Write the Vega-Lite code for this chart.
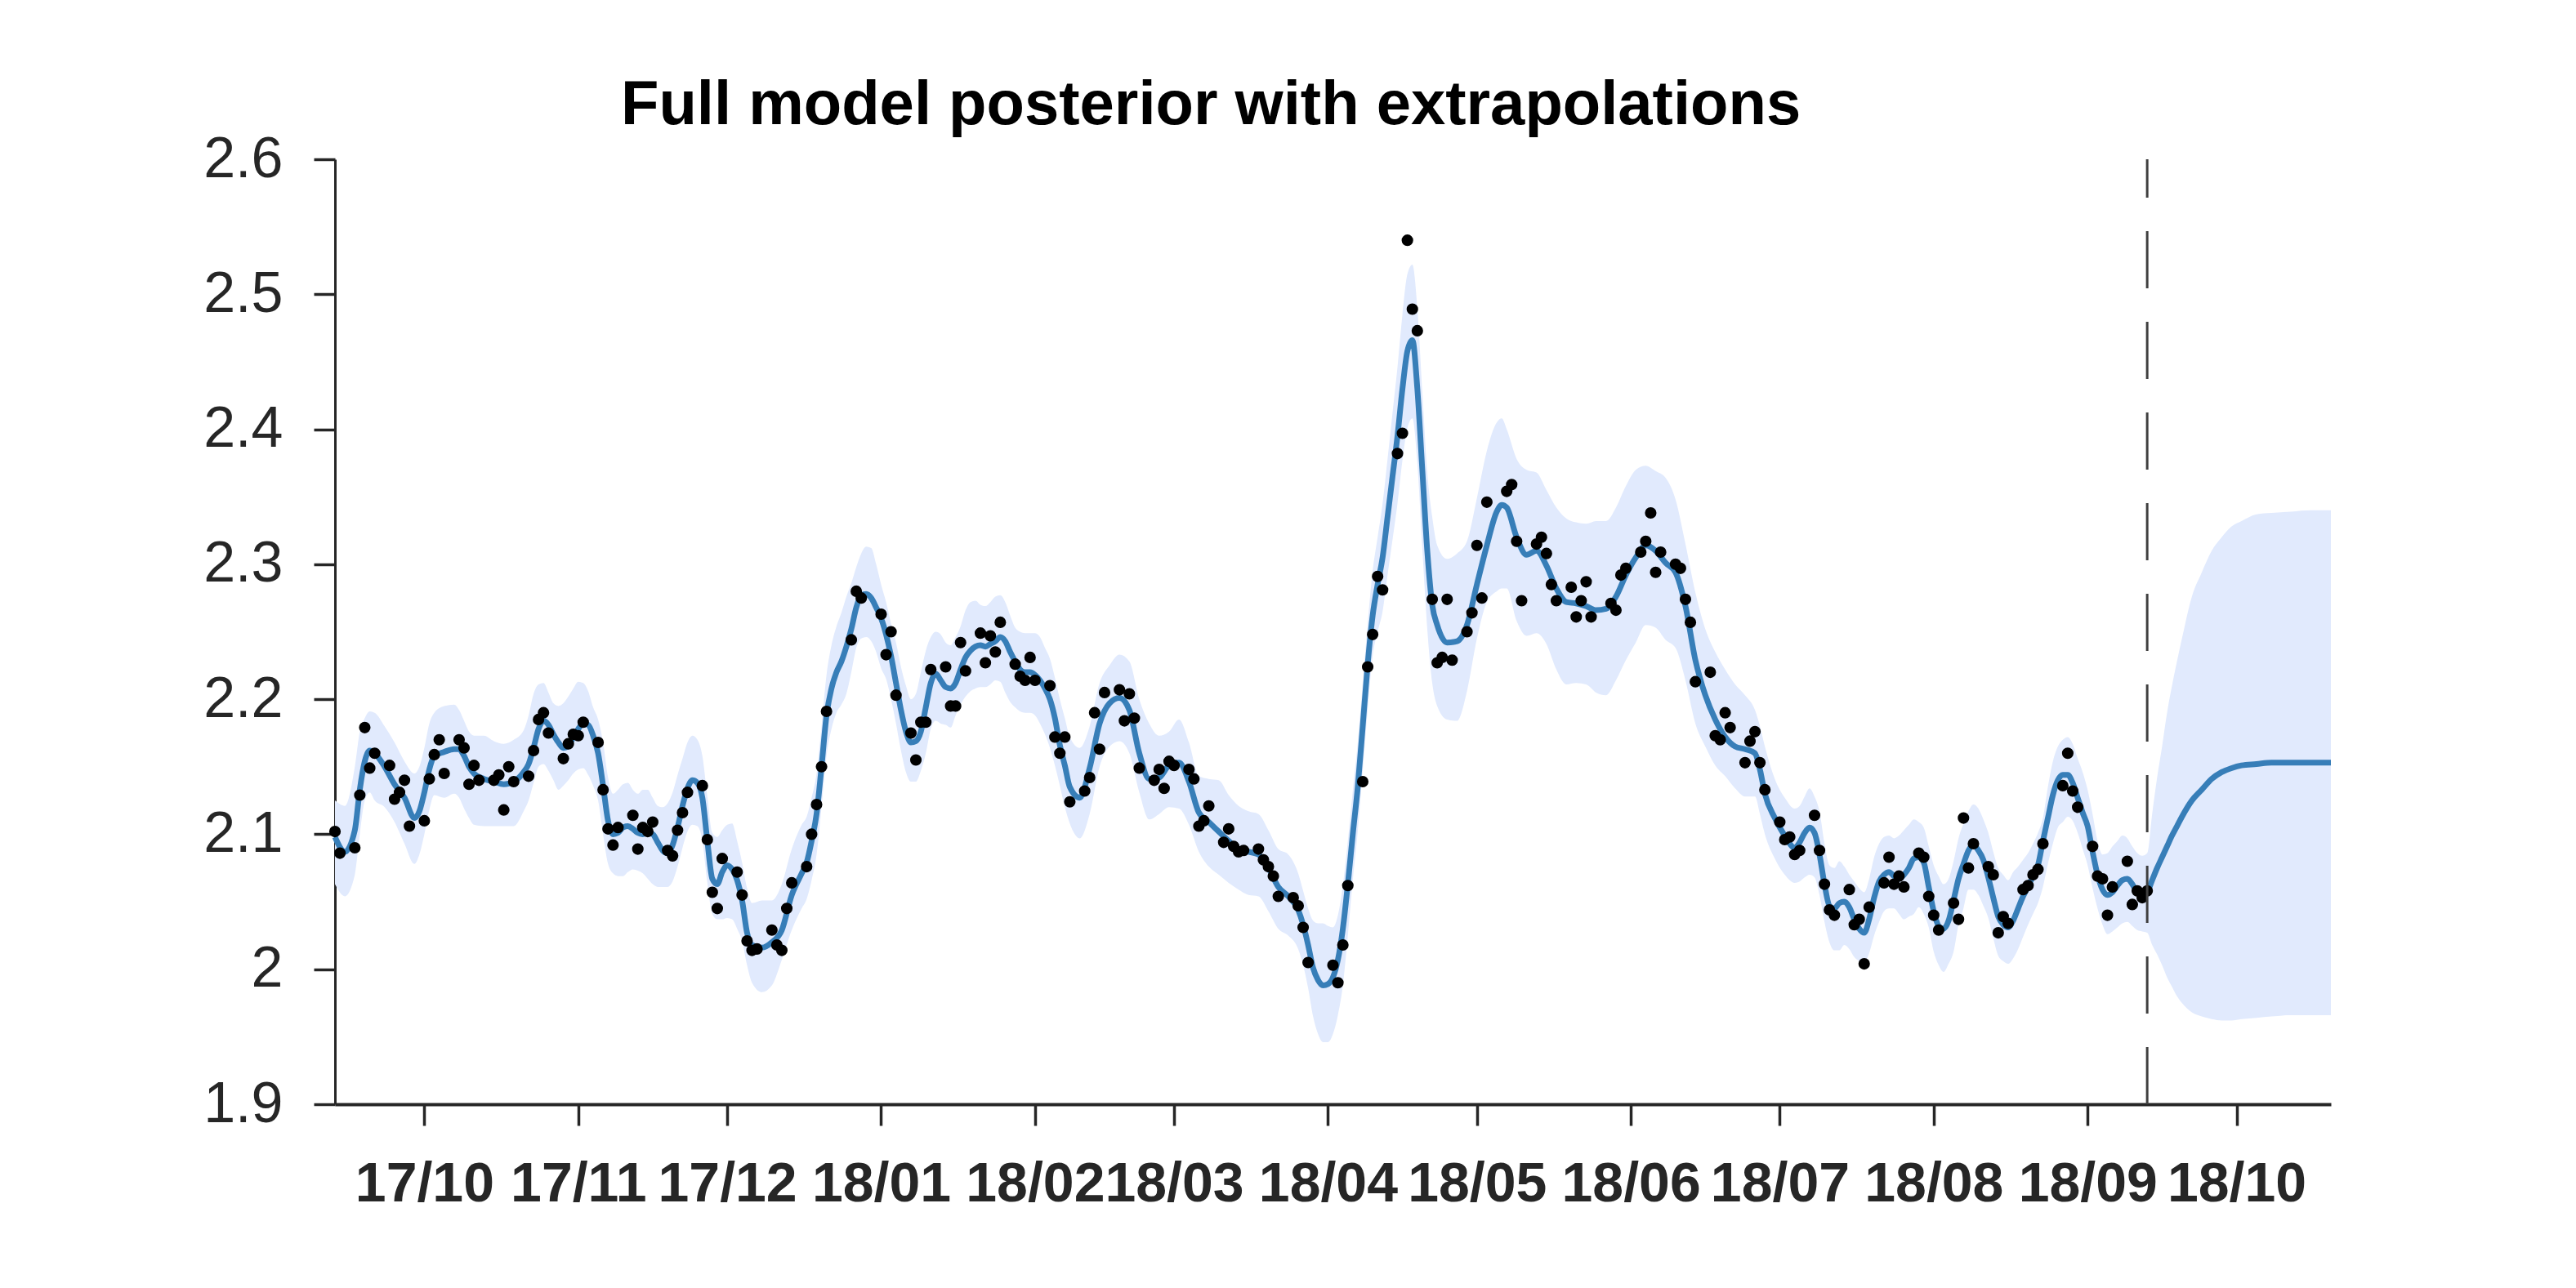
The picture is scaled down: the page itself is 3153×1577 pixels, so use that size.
{
"$schema": "https://vega.github.io/schema/vega-lite/v6.json",
"width": 2443, "height": 1157,
"autosize": {"type": "none"},
"padding": {"left": 410, "top": 195, "right": 300, "bottom": 225},
"background": "white",
"config": {"view": {"stroke": null}, "font": "Liberation Sans"},
"title": {"text": "Full model posterior with extrapolations", "anchor": "start", "frame": "group", "dx": 350, "dy": 28, "fontSize": 76, "fontWeight": "bold", "font": "Liberation Sans", "color": "#000000", "offset": 20},
"datasets": {
"post": [
{"t":"2017-09-13","m":2.098,"lo":2.063,"hi":2.125},
{"t":"2017-09-15","m":2.087,"lo":2.054,"hi":2.121},
{"t":"2017-09-17","m":2.103,"lo":2.070,"hi":2.150},
{"t":"2017-09-18","m":2.133,"lo":2.100,"hi":2.176},
{"t":"2017-09-19","m":2.154,"lo":2.125,"hi":2.186},
{"t":"2017-09-20","m":2.162,"lo":2.131,"hi":2.191},
{"t":"2017-09-21","m":2.160,"lo":2.125,"hi":2.190},
{"t":"2017-09-23","m":2.150,"lo":2.120,"hi":2.180},
{"t":"2017-09-25","m":2.137,"lo":2.109,"hi":2.168},
{"t":"2017-09-27","m":2.127,"lo":2.093,"hi":2.154},
{"t":"2017-09-29","m":2.112,"lo":2.078,"hi":2.145},
{"t":"2017-09-30","m":2.117,"lo":2.085,"hi":2.150},
{"t":"2017-10-01","m":2.131,"lo":2.100,"hi":2.164},
{"t":"2017-10-02","m":2.148,"lo":2.118,"hi":2.182},
{"t":"2017-10-03","m":2.158,"lo":2.129,"hi":2.190},
{"t":"2017-10-05","m":2.161,"lo":2.127,"hi":2.195},
{"t":"2017-10-07","m":2.163,"lo":2.130,"hi":2.196},
{"t":"2017-10-08","m":2.163,"lo":2.127,"hi":2.192},
{"t":"2017-10-09","m":2.158,"lo":2.119,"hi":2.184},
{"t":"2017-10-10","m":2.150,"lo":2.112,"hi":2.176},
{"t":"2017-10-11","m":2.145,"lo":2.107,"hi":2.173},
{"t":"2017-10-13","m":2.141,"lo":2.106,"hi":2.173},
{"t":"2017-10-15","m":2.139,"lo":2.106,"hi":2.169},
{"t":"2017-10-17","m":2.137,"lo":2.106,"hi":2.167},
{"t":"2017-10-19","m":2.139,"lo":2.106,"hi":2.170},
{"t":"2017-10-21","m":2.146,"lo":2.117,"hi":2.177},
{"t":"2017-10-22","m":2.152,"lo":2.125,"hi":2.188},
{"t":"2017-10-23","m":2.164,"lo":2.138,"hi":2.204},
{"t":"2017-10-24","m":2.178,"lo":2.150,"hi":2.211},
{"t":"2017-10-25","m":2.184,"lo":2.152,"hi":2.212},
{"t":"2017-10-26","m":2.181,"lo":2.147,"hi":2.205},
{"t":"2017-10-27","m":2.174,"lo":2.140,"hi":2.197},
{"t":"2017-10-28","m":2.168,"lo":2.133,"hi":2.195},
{"t":"2017-10-29","m":2.164,"lo":2.136,"hi":2.197},
{"t":"2017-10-30","m":2.165,"lo":2.140,"hi":2.202},
{"t":"2017-10-31","m":2.172,"lo":2.145,"hi":2.208},
{"t":"2017-11-01","m":2.178,"lo":2.148,"hi":2.213},
{"t":"2017-11-02","m":2.182,"lo":2.149,"hi":2.212},
{"t":"2017-11-03","m":2.181,"lo":2.144,"hi":2.206},
{"t":"2017-11-04","m":2.173,"lo":2.136,"hi":2.194},
{"t":"2017-11-05","m":2.160,"lo":2.125,"hi":2.185},
{"t":"2017-11-06","m":2.136,"lo":2.100,"hi":2.168},
{"t":"2017-11-07","m":2.110,"lo":2.078,"hi":2.142},
{"t":"2017-11-08","m":2.100,"lo":2.071,"hi":2.130},
{"t":"2017-11-09","m":2.101,"lo":2.069,"hi":2.133},
{"t":"2017-11-10","m":2.105,"lo":2.069,"hi":2.137},
{"t":"2017-11-11","m":2.106,"lo":2.072,"hi":2.138},
{"t":"2017-11-12","m":2.104,"lo":2.074,"hi":2.133},
{"t":"2017-11-13","m":2.101,"lo":2.073,"hi":2.130},
{"t":"2017-11-14","m":2.100,"lo":2.071,"hi":2.133},
{"t":"2017-11-15","m":2.101,"lo":2.067,"hi":2.133},
{"t":"2017-11-16","m":2.100,"lo":2.063,"hi":2.127},
{"t":"2017-11-17","m":2.094,"lo":2.061,"hi":2.121},
{"t":"2017-11-18","m":2.088,"lo":2.061,"hi":2.120},
{"t":"2017-11-19","m":2.086,"lo":2.061,"hi":2.123},
{"t":"2017-11-20","m":2.092,"lo":2.065,"hi":2.131},
{"t":"2017-11-21","m":2.105,"lo":2.076,"hi":2.144},
{"t":"2017-11-22","m":2.121,"lo":2.090,"hi":2.156},
{"t":"2017-11-23","m":2.134,"lo":2.102,"hi":2.168},
{"t":"2017-11-24","m":2.140,"lo":2.107,"hi":2.173},
{"t":"2017-11-25","m":2.138,"lo":2.106,"hi":2.170},
{"t":"2017-11-26","m":2.127,"lo":2.095,"hi":2.158},
{"t":"2017-11-27","m":2.095,"lo":2.064,"hi":2.128},
{"t":"2017-11-28","m":2.067,"lo":2.041,"hi":2.101},
{"t":"2017-11-29","m":2.063,"lo":2.037,"hi":2.098},
{"t":"2017-11-30","m":2.072,"lo":2.037,"hi":2.103},
{"t":"2017-12-01","m":2.077,"lo":2.038,"hi":2.107},
{"t":"2017-12-02","m":2.074,"lo":2.037,"hi":2.108},
{"t":"2017-12-03","m":2.066,"lo":2.030,"hi":2.095},
{"t":"2017-12-04","m":2.051,"lo":2.021,"hi":2.079},
{"t":"2017-12-05","m":2.027,"lo":2.003,"hi":2.060},
{"t":"2017-12-06","m":2.018,"lo":1.990,"hi":2.049},
{"t":"2017-12-08","m":2.016,"lo":1.983,"hi":2.051},
{"t":"2017-12-10","m":2.020,"lo":1.988,"hi":2.051},
{"t":"2017-12-12","m":2.029,"lo":2.007,"hi":2.063},
{"t":"2017-12-14","m":2.055,"lo":2.029,"hi":2.089},
{"t":"2017-12-16","m":2.071,"lo":2.045,"hi":2.107},
{"t":"2017-12-17","m":2.079,"lo":2.052,"hi":2.113},
{"t":"2017-12-18","m":2.095,"lo":2.066,"hi":2.127},
{"t":"2017-12-19","m":2.115,"lo":2.085,"hi":2.145},
{"t":"2017-12-20","m":2.150,"lo":2.120,"hi":2.180},
{"t":"2017-12-21","m":2.188,"lo":2.158,"hi":2.218},
{"t":"2017-12-22","m":2.208,"lo":2.178,"hi":2.240},
{"t":"2017-12-23","m":2.220,"lo":2.190,"hi":2.254},
{"t":"2017-12-24","m":2.228,"lo":2.196,"hi":2.264},
{"t":"2017-12-25","m":2.239,"lo":2.204,"hi":2.276},
{"t":"2017-12-26","m":2.252,"lo":2.220,"hi":2.286},
{"t":"2017-12-27","m":2.268,"lo":2.238,"hi":2.298},
{"t":"2017-12-28","m":2.277,"lo":2.245,"hi":2.308},
{"t":"2017-12-29","m":2.278,"lo":2.246,"hi":2.313},
{"t":"2017-12-30","m":2.275,"lo":2.243,"hi":2.312},
{"t":"2017-12-31","m":2.268,"lo":2.235,"hi":2.300},
{"t":"2018-01-01","m":2.260,"lo":2.223,"hi":2.285},
{"t":"2018-01-02","m":2.248,"lo":2.215,"hi":2.272},
{"t":"2018-01-03","m":2.232,"lo":2.200,"hi":2.256},
{"t":"2018-01-04","m":2.212,"lo":2.182,"hi":2.242},
{"t":"2018-01-05","m":2.192,"lo":2.162,"hi":2.224},
{"t":"2018-01-06","m":2.176,"lo":2.146,"hi":2.210},
{"t":"2018-01-07","m":2.168,"lo":2.139,"hi":2.200},
{"t":"2018-01-08","m":2.169,"lo":2.139,"hi":2.204},
{"t":"2018-01-09","m":2.176,"lo":2.147,"hi":2.220},
{"t":"2018-01-10","m":2.194,"lo":2.160,"hi":2.236},
{"t":"2018-01-11","m":2.212,"lo":2.178,"hi":2.246},
{"t":"2018-01-12","m":2.219,"lo":2.184,"hi":2.250},
{"t":"2018-01-13","m":2.214,"lo":2.182,"hi":2.248},
{"t":"2018-01-14","m":2.209,"lo":2.181,"hi":2.242},
{"t":"2018-01-15","m":2.208,"lo":2.179,"hi":2.240},
{"t":"2018-01-16","m":2.212,"lo":2.188,"hi":2.246},
{"t":"2018-01-17","m":2.222,"lo":2.196,"hi":2.254},
{"t":"2018-01-18","m":2.231,"lo":2.202,"hi":2.266},
{"t":"2018-01-19","m":2.236,"lo":2.206,"hi":2.272},
{"t":"2018-01-20","m":2.239,"lo":2.208,"hi":2.273},
{"t":"2018-01-21","m":2.240,"lo":2.209,"hi":2.270},
{"t":"2018-01-22","m":2.239,"lo":2.209,"hi":2.269},
{"t":"2018-01-23","m":2.241,"lo":2.211,"hi":2.272},
{"t":"2018-01-24","m":2.243,"lo":2.214,"hi":2.276},
{"t":"2018-01-25","m":2.246,"lo":2.213,"hi":2.277},
{"t":"2018-01-26","m":2.243,"lo":2.205,"hi":2.272},
{"t":"2018-01-27","m":2.235,"lo":2.198,"hi":2.262},
{"t":"2018-01-28","m":2.228,"lo":2.194,"hi":2.253},
{"t":"2018-01-29","m":2.222,"lo":2.191,"hi":2.250},
{"t":"2018-01-30","m":2.220,"lo":2.190,"hi":2.249},
{"t":"2018-01-31","m":2.220,"lo":2.190,"hi":2.249},
{"t":"2018-02-01","m":2.218,"lo":2.188,"hi":2.249},
{"t":"2018-02-02","m":2.214,"lo":2.182,"hi":2.246},
{"t":"2018-02-03","m":2.208,"lo":2.174,"hi":2.238},
{"t":"2018-02-04","m":2.200,"lo":2.164,"hi":2.230},
{"t":"2018-02-05","m":2.186,"lo":2.151,"hi":2.216},
{"t":"2018-02-06","m":2.166,"lo":2.136,"hi":2.200},
{"t":"2018-02-07","m":2.151,"lo":2.120,"hi":2.186},
{"t":"2018-02-08","m":2.135,"lo":2.108,"hi":2.172},
{"t":"2018-02-10","m":2.127,"lo":2.097,"hi":2.164},
{"t":"2018-02-12","m":2.149,"lo":2.115,"hi":2.180},
{"t":"2018-02-14","m":2.182,"lo":2.150,"hi":2.212},
{"t":"2018-02-16","m":2.197,"lo":2.165,"hi":2.225},
{"t":"2018-02-18","m":2.201,"lo":2.169,"hi":2.233},
{"t":"2018-02-20","m":2.192,"lo":2.160,"hi":2.228},
{"t":"2018-02-22","m":2.160,"lo":2.131,"hi":2.200},
{"t":"2018-02-24","m":2.141,"lo":2.111,"hi":2.182},
{"t":"2018-02-26","m":2.142,"lo":2.115,"hi":2.173},
{"t":"2018-02-28","m":2.151,"lo":2.120,"hi":2.176},
{"t":"2018-03-02","m":2.153,"lo":2.119,"hi":2.185},
{"t":"2018-03-04","m":2.139,"lo":2.107,"hi":2.168},
{"t":"2018-03-06","m":2.116,"lo":2.087,"hi":2.143},
{"t":"2018-03-08","m":2.109,"lo":2.076,"hi":2.141},
{"t":"2018-03-10","m":2.102,"lo":2.070,"hi":2.140},
{"t":"2018-03-12","m":2.095,"lo":2.064,"hi":2.129},
{"t":"2018-03-14","m":2.089,"lo":2.059,"hi":2.121},
{"t":"2018-03-16","m":2.087,"lo":2.055,"hi":2.117},
{"t":"2018-03-18","m":2.085,"lo":2.054,"hi":2.115},
{"t":"2018-03-20","m":2.075,"lo":2.043,"hi":2.103},
{"t":"2018-03-22","m":2.061,"lo":2.030,"hi":2.089},
{"t":"2018-03-24","m":2.054,"lo":2.025,"hi":2.085},
{"t":"2018-03-26","m":2.044,"lo":2.015,"hi":2.071},
{"t":"2018-03-27","m":2.033,"lo":2.003,"hi":2.058},
{"t":"2018-03-28","m":2.018,"lo":1.986,"hi":2.045},
{"t":"2018-03-29","m":2.001,"lo":1.965,"hi":2.036},
{"t":"2018-03-30","m":1.992,"lo":1.952,"hi":2.034},
{"t":"2018-03-31","m":1.988,"lo":1.946,"hi":2.034},
{"t":"2018-04-01","m":1.989,"lo":1.946,"hi":2.032},
{"t":"2018-04-02","m":1.994,"lo":1.952,"hi":2.031},
{"t":"2018-04-03","m":2.007,"lo":1.966,"hi":2.040},
{"t":"2018-04-04","m":2.030,"lo":1.988,"hi":2.062},
{"t":"2018-04-05","m":2.063,"lo":2.025,"hi":2.095},
{"t":"2018-04-06","m":2.100,"lo":2.066,"hi":2.132},
{"t":"2018-04-07","m":2.135,"lo":2.102,"hi":2.168},
{"t":"2018-04-08","m":2.180,"lo":2.147,"hi":2.212},
{"t":"2018-04-09","m":2.226,"lo":2.192,"hi":2.256},
{"t":"2018-04-10","m":2.262,"lo":2.232,"hi":2.295},
{"t":"2018-04-11","m":2.285,"lo":2.250,"hi":2.320},
{"t":"2018-04-12","m":2.305,"lo":2.265,"hi":2.345},
{"t":"2018-04-13","m":2.335,"lo":2.292,"hi":2.378},
{"t":"2018-04-14","m":2.365,"lo":2.318,"hi":2.412},
{"t":"2018-04-15","m":2.395,"lo":2.345,"hi":2.446},
{"t":"2018-04-16","m":2.430,"lo":2.377,"hi":2.485},
{"t":"2018-04-17","m":2.458,"lo":2.401,"hi":2.515},
{"t":"2018-04-18","m":2.466,"lo":2.408,"hi":2.522},
{"t":"2018-04-19","m":2.430,"lo":2.375,"hi":2.490},
{"t":"2018-04-20","m":2.370,"lo":2.312,"hi":2.428},
{"t":"2018-04-21","m":2.310,"lo":2.252,"hi":2.368},
{"t":"2018-04-22","m":2.270,"lo":2.212,"hi":2.335},
{"t":"2018-04-23","m":2.255,"lo":2.195,"hi":2.314},
{"t":"2018-04-25","m":2.242,"lo":2.185,"hi":2.304},
{"t":"2018-04-27","m":2.243,"lo":2.184,"hi":2.308},
{"t":"2018-04-29","m":2.255,"lo":2.206,"hi":2.317},
{"t":"2018-05-01","m":2.285,"lo":2.245,"hi":2.349},
{"t":"2018-05-03","m":2.314,"lo":2.272,"hi":2.384},
{"t":"2018-05-05","m":2.339,"lo":2.280,"hi":2.405},
{"t":"2018-05-06","m":2.344,"lo":2.282,"hi":2.408},
{"t":"2018-05-07","m":2.342,"lo":2.282,"hi":2.400},
{"t":"2018-05-09","m":2.320,"lo":2.258,"hi":2.378},
{"t":"2018-05-11","m":2.307,"lo":2.247,"hi":2.370},
{"t":"2018-05-13","m":2.310,"lo":2.249,"hi":2.368},
{"t":"2018-05-15","m":2.299,"lo":2.241,"hi":2.355},
{"t":"2018-05-17","m":2.282,"lo":2.222,"hi":2.342},
{"t":"2018-05-19","m":2.272,"lo":2.211,"hi":2.334},
{"t":"2018-05-21","m":2.271,"lo":2.212,"hi":2.331},
{"t":"2018-05-23","m":2.269,"lo":2.211,"hi":2.330},
{"t":"2018-05-25","m":2.266,"lo":2.205,"hi":2.332},
{"t":"2018-05-27","m":2.267,"lo":2.203,"hi":2.332},
{"t":"2018-05-29","m":2.276,"lo":2.214,"hi":2.342},
{"t":"2018-05-31","m":2.292,"lo":2.229,"hi":2.358},
{"t":"2018-06-02","m":2.305,"lo":2.242,"hi":2.370},
{"t":"2018-06-04","m":2.314,"lo":2.255,"hi":2.373},
{"t":"2018-06-06","m":2.310,"lo":2.253,"hi":2.369},
{"t":"2018-06-08","m":2.301,"lo":2.244,"hi":2.364},
{"t":"2018-06-10","m":2.294,"lo":2.238,"hi":2.348},
{"t":"2018-06-12","m":2.269,"lo":2.214,"hi":2.315},
{"t":"2018-06-14","m":2.229,"lo":2.182,"hi":2.279},
{"t":"2018-06-16","m":2.203,"lo":2.165,"hi":2.252},
{"t":"2018-06-18","m":2.185,"lo":2.151,"hi":2.235},
{"t":"2018-06-20","m":2.172,"lo":2.143,"hi":2.222},
{"t":"2018-06-22","m":2.165,"lo":2.134,"hi":2.211},
{"t":"2018-06-24","m":2.163,"lo":2.128,"hi":2.203},
{"t":"2018-06-26","m":2.160,"lo":2.128,"hi":2.192},
{"t":"2018-06-27","m":2.148,"lo":2.115,"hi":2.180},
{"t":"2018-06-28","m":2.130,"lo":2.100,"hi":2.165},
{"t":"2018-06-30","m":2.112,"lo":2.082,"hi":2.141},
{"t":"2018-07-02","m":2.099,"lo":2.070,"hi":2.127},
{"t":"2018-07-04","m":2.090,"lo":2.064,"hi":2.119},
{"t":"2018-07-05","m":2.094,"lo":2.065,"hi":2.121},
{"t":"2018-07-06","m":2.101,"lo":2.068,"hi":2.128},
{"t":"2018-07-07","m":2.105,"lo":2.070,"hi":2.134},
{"t":"2018-07-08","m":2.101,"lo":2.068,"hi":2.128},
{"t":"2018-07-09","m":2.085,"lo":2.055,"hi":2.117},
{"t":"2018-07-10","m":2.063,"lo":2.035,"hi":2.093},
{"t":"2018-07-11","m":2.047,"lo":2.020,"hi":2.077},
{"t":"2018-07-12","m":2.045,"lo":2.014,"hi":2.075},
{"t":"2018-07-13","m":2.049,"lo":2.014,"hi":2.080},
{"t":"2018-07-14","m":2.050,"lo":2.018,"hi":2.076},
{"t":"2018-07-15","m":2.046,"lo":2.015,"hi":2.070},
{"t":"2018-07-16","m":2.037,"lo":2.009,"hi":2.065},
{"t":"2018-07-17","m":2.030,"lo":2.006,"hi":2.060},
{"t":"2018-07-18","m":2.027,"lo":2.005,"hi":2.057},
{"t":"2018-07-19","m":2.037,"lo":2.012,"hi":2.067},
{"t":"2018-07-20","m":2.053,"lo":2.025,"hi":2.083},
{"t":"2018-07-21","m":2.065,"lo":2.035,"hi":2.093},
{"t":"2018-07-22","m":2.070,"lo":2.043,"hi":2.098},
{"t":"2018-07-23","m":2.072,"lo":2.045,"hi":2.099},
{"t":"2018-07-24","m":2.069,"lo":2.045,"hi":2.097},
{"t":"2018-07-25","m":2.067,"lo":2.041,"hi":2.099},
{"t":"2018-07-26","m":2.070,"lo":2.037,"hi":2.103},
{"t":"2018-07-27","m":2.075,"lo":2.039,"hi":2.107},
{"t":"2018-07-28","m":2.082,"lo":2.041,"hi":2.111},
{"t":"2018-07-29","m":2.083,"lo":2.046,"hi":2.109},
{"t":"2018-07-30","m":2.079,"lo":2.041,"hi":2.105},
{"t":"2018-07-31","m":2.061,"lo":2.031,"hi":2.091},
{"t":"2018-08-01","m":2.043,"lo":2.013,"hi":2.077},
{"t":"2018-08-02","m":2.032,"lo":2.003,"hi":2.069},
{"t":"2018-08-03","m":2.030,"lo":1.998,"hi":2.063},
{"t":"2018-08-04","m":2.036,"lo":2.004,"hi":2.067},
{"t":"2018-08-05","m":2.051,"lo":2.013,"hi":2.080},
{"t":"2018-08-06","m":2.067,"lo":2.033,"hi":2.097},
{"t":"2018-08-07","m":2.078,"lo":2.045,"hi":2.108},
{"t":"2018-08-08","m":2.088,"lo":2.059,"hi":2.117},
{"t":"2018-08-09","m":2.092,"lo":2.059,"hi":2.122},
{"t":"2018-08-10","m":2.088,"lo":2.055,"hi":2.119},
{"t":"2018-08-11","m":2.081,"lo":2.047,"hi":2.111},
{"t":"2018-08-12","m":2.068,"lo":2.038,"hi":2.101},
{"t":"2018-08-13","m":2.053,"lo":2.023,"hi":2.087},
{"t":"2018-08-14","m":2.039,"lo":2.010,"hi":2.075},
{"t":"2018-08-15","m":2.033,"lo":2.006,"hi":2.070},
{"t":"2018-08-16","m":2.031,"lo":2.004,"hi":2.066},
{"t":"2018-08-17","m":2.036,"lo":2.008,"hi":2.072},
{"t":"2018-08-18","m":2.045,"lo":2.015,"hi":2.076},
{"t":"2018-08-19","m":2.054,"lo":2.024,"hi":2.081},
{"t":"2018-08-20","m":2.061,"lo":2.033,"hi":2.086},
{"t":"2018-08-21","m":2.069,"lo":2.041,"hi":2.093},
{"t":"2018-08-22","m":2.077,"lo":2.049,"hi":2.101},
{"t":"2018-08-23","m":2.095,"lo":2.061,"hi":2.112},
{"t":"2018-08-24","m":2.112,"lo":2.078,"hi":2.135},
{"t":"2018-08-25","m":2.129,"lo":2.093,"hi":2.154},
{"t":"2018-08-26","m":2.140,"lo":2.105,"hi":2.165},
{"t":"2018-08-27","m":2.144,"lo":2.109,"hi":2.170},
{"t":"2018-08-28","m":2.144,"lo":2.113,"hi":2.172},
{"t":"2018-08-29","m":2.138,"lo":2.110,"hi":2.167},
{"t":"2018-08-30","m":2.127,"lo":2.101,"hi":2.156},
{"t":"2018-08-31","m":2.116,"lo":2.089,"hi":2.146},
{"t":"2018-09-01","m":2.106,"lo":2.077,"hi":2.133},
{"t":"2018-09-02","m":2.087,"lo":2.060,"hi":2.115},
{"t":"2018-09-03","m":2.070,"lo":2.045,"hi":2.095},
{"t":"2018-09-04","m":2.059,"lo":2.033,"hi":2.085},
{"t":"2018-09-05","m":2.055,"lo":2.026,"hi":2.086},
{"t":"2018-09-06","m":2.057,"lo":2.028,"hi":2.091},
{"t":"2018-09-07","m":2.062,"lo":2.031,"hi":2.095},
{"t":"2018-09-08","m":2.066,"lo":2.034,"hi":2.099},
{"t":"2018-09-09","m":2.067,"lo":2.035,"hi":2.097},
{"t":"2018-09-10","m":2.063,"lo":2.032,"hi":2.091},
{"t":"2018-09-11","m":2.057,"lo":2.029,"hi":2.086},
{"t":"2018-09-12","m":2.055,"lo":2.028,"hi":2.084},
{"t":"2018-09-13","m":2.057,"lo":2.027,"hi":2.086},
{"t":"2018-09-14","m":2.066,"lo":2.018,"hi":2.115},
{"t":"2018-09-15","m":2.075,"lo":2.011,"hi":2.142},
{"t":"2018-09-16","m":2.083,"lo":2.003,"hi":2.165},
{"t":"2018-09-17","m":2.091,"lo":1.994,"hi":2.190},
{"t":"2018-09-18","m":2.099,"lo":1.987,"hi":2.210},
{"t":"2018-09-19","m":2.106,"lo":1.980,"hi":2.228},
{"t":"2018-09-20","m":2.113,"lo":1.975,"hi":2.245},
{"t":"2018-09-22","m":2.125,"lo":1.968,"hi":2.276},
{"t":"2018-09-24","m":2.133,"lo":1.965,"hi":2.294},
{"t":"2018-09-26","m":2.141,"lo":1.963,"hi":2.310},
{"t":"2018-09-28","m":2.146,"lo":1.962,"hi":2.320},
{"t":"2018-09-30","m":2.149,"lo":1.962,"hi":2.328},
{"t":"2018-10-02","m":2.151,"lo":1.963,"hi":2.332},
{"t":"2018-10-05","m":2.152,"lo":1.964,"hi":2.337},
{"t":"2018-10-08","m":2.153,"lo":1.965,"hi":2.338},
{"t":"2018-10-12","m":2.153,"lo":1.966,"hi":2.339},
{"t":"2018-10-16","m":2.153,"lo":1.966,"hi":2.340},
{"t":"2018-10-20","m":2.153,"lo":1.966,"hi":2.340}
],
"obs": [
{"t":"2017-09-13","y":2.102},{"t":"2017-09-14","y":2.086},{"t":"2017-09-17","y":2.090},{"t":"2017-09-18","y":2.129},{"t":"2017-09-19","y":2.179},{"t":"2017-09-20","y":2.149},{"t":"2017-09-21","y":2.160},
{"t":"2017-09-24","y":2.151},{"t":"2017-09-25","y":2.126},{"t":"2017-09-26","y":2.131},{"t":"2017-09-27","y":2.140},{"t":"2017-09-28","y":2.106},
{"t":"2017-10-01","y":2.110},{"t":"2017-10-02","y":2.141},{"t":"2017-10-03","y":2.159},{"t":"2017-10-04","y":2.170},{"t":"2017-10-05","y":2.145},
{"t":"2017-10-08","y":2.170},{"t":"2017-10-09","y":2.164},{"t":"2017-10-10","y":2.137},{"t":"2017-10-11","y":2.151},{"t":"2017-10-12","y":2.140},
{"t":"2017-10-15","y":2.140},{"t":"2017-10-16","y":2.144},{"t":"2017-10-17","y":2.118},{"t":"2017-10-18","y":2.150},{"t":"2017-10-19","y":2.139},
{"t":"2017-10-22","y":2.143},{"t":"2017-10-23","y":2.162},{"t":"2017-10-24","y":2.185},{"t":"2017-10-25","y":2.190},{"t":"2017-10-26","y":2.175},
{"t":"2017-10-29","y":2.156},{"t":"2017-10-30","y":2.167},{"t":"2017-10-31","y":2.174},{"t":"2017-11-01","y":2.173},{"t":"2017-11-02","y":2.183},
{"t":"2017-11-05","y":2.168},{"t":"2017-11-06","y":2.133},{"t":"2017-11-07","y":2.104},{"t":"2017-11-08","y":2.092},{"t":"2017-11-09","y":2.105},
{"t":"2017-11-12","y":2.114},{"t":"2017-11-13","y":2.089},{"t":"2017-11-14","y":2.105},{"t":"2017-11-15","y":2.102},{"t":"2017-11-16","y":2.109},
{"t":"2017-11-19","y":2.088},{"t":"2017-11-20","y":2.084},{"t":"2017-11-21","y":2.103},{"t":"2017-11-22","y":2.116},{"t":"2017-11-23","y":2.131},
{"t":"2017-11-26","y":2.136},{"t":"2017-11-27","y":2.096},{"t":"2017-11-28","y":2.057},{"t":"2017-11-29","y":2.045},{"t":"2017-11-30","y":2.082},
{"t":"2017-12-03","y":2.072},{"t":"2017-12-04","y":2.055},{"t":"2017-12-05","y":2.021},{"t":"2017-12-06","y":2.014},{"t":"2017-12-07","y":2.015},
{"t":"2017-12-10","y":2.029},{"t":"2017-12-11","y":2.018},{"t":"2017-12-12","y":2.014},{"t":"2017-12-13","y":2.045},{"t":"2017-12-14","y":2.064},
{"t":"2017-12-17","y":2.076},{"t":"2017-12-18","y":2.100},{"t":"2017-12-19","y":2.122},{"t":"2017-12-20","y":2.150},{"t":"2017-12-21","y":2.191},
{"t":"2017-12-26","y":2.244},{"t":"2017-12-27","y":2.280},{"t":"2017-12-28","y":2.275},
{"t":"2018-01-01","y":2.263},{"t":"2018-01-02","y":2.233},{"t":"2018-01-03","y":2.250},{"t":"2018-01-04","y":2.203},
{"t":"2018-01-07","y":2.175},{"t":"2018-01-08","y":2.155},{"t":"2018-01-09","y":2.183},{"t":"2018-01-10","y":2.183},{"t":"2018-01-11","y":2.222},
{"t":"2018-01-14","y":2.224},{"t":"2018-01-15","y":2.195},{"t":"2018-01-16","y":2.195},{"t":"2018-01-17","y":2.242},{"t":"2018-01-18","y":2.221},
{"t":"2018-01-21","y":2.249},{"t":"2018-01-22","y":2.227},{"t":"2018-01-23","y":2.247},{"t":"2018-01-24","y":2.235},{"t":"2018-01-25","y":2.257},
{"t":"2018-01-28","y":2.226},{"t":"2018-01-29","y":2.217},{"t":"2018-01-30","y":2.214},{"t":"2018-01-31","y":2.231},{"t":"2018-02-01","y":2.214},
{"t":"2018-02-04","y":2.210},{"t":"2018-02-05","y":2.172},{"t":"2018-02-06","y":2.160},{"t":"2018-02-07","y":2.172},{"t":"2018-02-08","y":2.124},
{"t":"2018-02-11","y":2.132},{"t":"2018-02-12","y":2.142},{"t":"2018-02-13","y":2.190},{"t":"2018-02-14","y":2.163},{"t":"2018-02-15","y":2.205},
{"t":"2018-02-18","y":2.207},{"t":"2018-02-19","y":2.184},{"t":"2018-02-20","y":2.204},{"t":"2018-02-21","y":2.186},{"t":"2018-02-22","y":2.149},
{"t":"2018-02-25","y":2.140},{"t":"2018-02-26","y":2.148},{"t":"2018-02-27","y":2.134},{"t":"2018-02-28","y":2.154},{"t":"2018-03-01","y":2.151},
{"t":"2018-03-04","y":2.148},{"t":"2018-03-05","y":2.141},{"t":"2018-03-06","y":2.106},{"t":"2018-03-07","y":2.110},{"t":"2018-03-08","y":2.121},
{"t":"2018-03-11","y":2.094},{"t":"2018-03-12","y":2.104},{"t":"2018-03-13","y":2.091},{"t":"2018-03-14","y":2.087},{"t":"2018-03-15","y":2.088},
{"t":"2018-03-18","y":2.089},{"t":"2018-03-19","y":2.081},{"t":"2018-03-20","y":2.076},{"t":"2018-03-21","y":2.069},{"t":"2018-03-22","y":2.054},
{"t":"2018-03-25","y":2.053},{"t":"2018-03-26","y":2.047},{"t":"2018-03-27","y":2.031},{"t":"2018-03-28","y":2.005},
{"t":"2018-04-02","y":2.003},{"t":"2018-04-03","y":1.990},{"t":"2018-04-04","y":2.018},{"t":"2018-04-05","y":2.062},
{"t":"2018-04-08","y":2.139},{"t":"2018-04-09","y":2.224},{"t":"2018-04-10","y":2.248},{"t":"2018-04-11","y":2.291},{"t":"2018-04-12","y":2.281},
{"t":"2018-04-15","y":2.382},{"t":"2018-04-16","y":2.397},{"t":"2018-04-17","y":2.540},{"t":"2018-04-18","y":2.489},{"t":"2018-04-19","y":2.473},
{"t":"2018-04-22","y":2.274},{"t":"2018-04-23","y":2.227},{"t":"2018-04-24","y":2.231},{"t":"2018-04-25","y":2.274},{"t":"2018-04-26","y":2.229},
{"t":"2018-04-29","y":2.250},{"t":"2018-04-30","y":2.264},{"t":"2018-05-01","y":2.314},{"t":"2018-05-02","y":2.275},{"t":"2018-05-03","y":2.346},
{"t":"2018-05-07","y":2.354},{"t":"2018-05-08","y":2.359},{"t":"2018-05-09","y":2.317},{"t":"2018-05-10","y":2.273},
{"t":"2018-05-13","y":2.315},{"t":"2018-05-14","y":2.320},{"t":"2018-05-15","y":2.308},{"t":"2018-05-16","y":2.285},{"t":"2018-05-17","y":2.273},
{"t":"2018-05-20","y":2.283},{"t":"2018-05-21","y":2.261},{"t":"2018-05-22","y":2.273},{"t":"2018-05-23","y":2.287},{"t":"2018-05-24","y":2.261},
{"t":"2018-05-28","y":2.271},{"t":"2018-05-29","y":2.266},{"t":"2018-05-30","y":2.292},{"t":"2018-05-31","y":2.297},
{"t":"2018-06-03","y":2.309},{"t":"2018-06-04","y":2.317},{"t":"2018-06-05","y":2.338},{"t":"2018-06-06","y":2.294},{"t":"2018-06-07","y":2.309},
{"t":"2018-06-10","y":2.300},{"t":"2018-06-11","y":2.297},{"t":"2018-06-12","y":2.274},{"t":"2018-06-13","y":2.257},{"t":"2018-06-14","y":2.213},
{"t":"2018-06-17","y":2.220},{"t":"2018-06-18","y":2.173},{"t":"2018-06-19","y":2.170},{"t":"2018-06-20","y":2.190},{"t":"2018-06-21","y":2.179},
{"t":"2018-06-24","y":2.153},{"t":"2018-06-25","y":2.169},{"t":"2018-06-26","y":2.176},{"t":"2018-06-27","y":2.153},{"t":"2018-06-28","y":2.133},
{"t":"2018-07-01","y":2.109},{"t":"2018-07-02","y":2.096},{"t":"2018-07-03","y":2.098},{"t":"2018-07-04","y":2.085},{"t":"2018-07-05","y":2.088},
{"t":"2018-07-08","y":2.114},{"t":"2018-07-09","y":2.088},{"t":"2018-07-10","y":2.063},{"t":"2018-07-11","y":2.044},{"t":"2018-07-12","y":2.040},
{"t":"2018-07-15","y":2.059},{"t":"2018-07-16","y":2.033},{"t":"2018-07-17","y":2.037},{"t":"2018-07-18","y":2.004},{"t":"2018-07-19","y":2.046},
{"t":"2018-07-22","y":2.064},{"t":"2018-07-23","y":2.083},{"t":"2018-07-24","y":2.063},{"t":"2018-07-25","y":2.069},{"t":"2018-07-26","y":2.061},
{"t":"2018-07-29","y":2.086},{"t":"2018-07-30","y":2.083},{"t":"2018-07-31","y":2.054},{"t":"2018-08-01","y":2.040},{"t":"2018-08-02","y":2.029},
{"t":"2018-08-05","y":2.049},{"t":"2018-08-06","y":2.037},{"t":"2018-08-07","y":2.112},{"t":"2018-08-08","y":2.075},{"t":"2018-08-09","y":2.093},
{"t":"2018-08-12","y":2.076},{"t":"2018-08-13","y":2.070},{"t":"2018-08-14","y":2.027},{"t":"2018-08-15","y":2.039},{"t":"2018-08-16","y":2.034},
{"t":"2018-08-19","y":2.059},{"t":"2018-08-20","y":2.062},{"t":"2018-08-21","y":2.070},{"t":"2018-08-22","y":2.074},{"t":"2018-08-23","y":2.093},
{"t":"2018-08-27","y":2.136},{"t":"2018-08-28","y":2.160},{"t":"2018-08-29","y":2.132},{"t":"2018-08-30","y":2.120},
{"t":"2018-09-02","y":2.091},{"t":"2018-09-03","y":2.069},{"t":"2018-09-04","y":2.067},{"t":"2018-09-05","y":2.040},{"t":"2018-09-06","y":2.061},
{"t":"2018-09-09","y":2.080},{"t":"2018-09-10","y":2.048},{"t":"2018-09-11","y":2.058},{"t":"2018-09-12","y":2.053},{"t":"2018-09-13","y":2.058}
],
"cut": [{"t":"2018-09-13"}]
},
"layer": [
{"data": {"name": "post"},
 "mark": {"type": "area", "color": "#e1eafd", "opacity": 1, "interpolate": "monotone"},
 "encoding": {
  "x": {"field": "t", "type": "temporal",
   "scale": {"type": "utc", "domain": [{"year": 2017, "month": 9, "date": 13, "utc": true}, {"year": 2018, "month": 10, "date": 20, "utc": true}]},
   "axis": {"title": null, "grid": false,
    "values": [{"year":2017,"month":10,"date":1,"utc":true},{"year":2017,"month":11,"date":1,"utc":true},{"year":2017,"month":12,"date":1,"utc":true},{"year":2018,"month":1,"date":1,"utc":true},{"year":2018,"month":2,"date":1,"utc":true},{"year":2018,"month":3,"date":1,"utc":true},{"year":2018,"month":4,"date":1,"utc":true},{"year":2018,"month":5,"date":1,"utc":true},{"year":2018,"month":6,"date":1,"utc":true},{"year":2018,"month":7,"date":1,"utc":true},{"year":2018,"month":8,"date":1,"utc":true},{"year":2018,"month":9,"date":1,"utc":true},{"year":2018,"month":10,"date":1,"utc":true}],
    "labelExpr": "utcFormat(datum.value, '%y/%m')",
    "labelFont": "Liberation Sans", "labelFontSize": 68, "labelFontWeight": "bold", "labelColor": "#262626",
    "labelPadding": 38, "labelDx": -6, "labelOverlap": false, "labelFlush": false, "labelBound": false, "labelLimit": 0,
    "tickSize": 26, "tickWidth": 3.5, "tickColor": "#262626",
    "domainColor": "#262626", "domainWidth": 4}},
  "y": {"field": "lo", "type": "quantitative",
   "scale": {"domain": [1.9, 2.6], "nice": false, "zero": false},
   "axis": {"title": null, "grid": false, "values": [1.9, 2, 2.1, 2.2, 2.3, 2.4, 2.5, 2.6], "format": "~g",
    "labelFont": "Liberation Sans", "labelFontSize": 70, "labelColor": "#262626", "labelPadding": 38,
    "labelOverlap": false, "labelFlush": false, "labelBound": false, "labelLimit": 0,
    "tickSize": 26, "tickWidth": 3.5, "tickColor": "#262626",
    "domainColor": "#262626", "domainWidth": 3}},
  "y2": {"field": "hi"}}},
{"data": {"name": "post"},
 "mark": {"type": "line", "color": "#377eb8", "strokeWidth": 7, "interpolate": "monotone"},
 "encoding": {
  "x": {"field": "t", "type": "temporal"},
  "y": {"field": "m", "type": "quantitative"}}},
{"data": {"name": "obs"},
 "mark": {"type": "point", "filled": true, "color": "#000000", "opacity": 1, "size": 200, "shape": "circle"},
 "encoding": {
  "x": {"field": "t", "type": "temporal"},
  "y": {"field": "y", "type": "quantitative"}}},
{"data": {"name": "cut"},
 "mark": {"type": "rule", "color": "#404040", "strokeWidth": 3, "strokeDash": [70, 41]},
 "encoding": {
  "x": {"field": "t", "type": "temporal"},
  "y": {"datum": 1.9, "type": "quantitative"},
  "y2": {"datum": 2.6}}}
]
}
